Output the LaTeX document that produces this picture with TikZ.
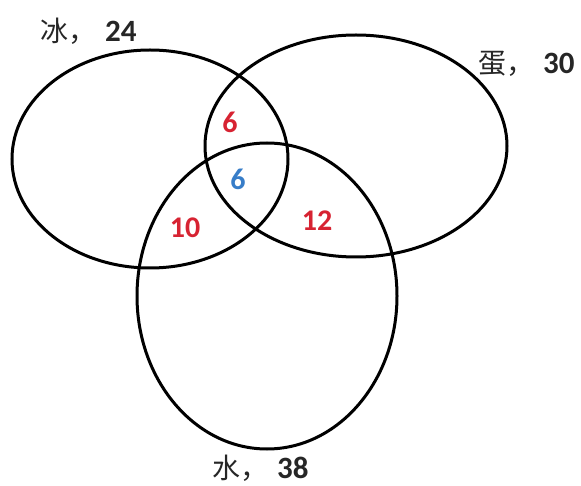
\documentclass[tikz,border=0pt]{standalone}
\usepackage{fontspec}
\setmainfont{Carlito}
\newfontfamily\cjk{Noto Sans CJK SC}
\begin{document}
\begin{tikzpicture}[x=1pt,y=-1pt,
  venn/.style={draw=black,line width=3pt},
  lbl/.style={anchor=west,font=\fontsize{31}{33}\selectfont\bfseries,text=black!85,inner sep=0pt},
  num/.style={font=\fontsize{30}{32}\selectfont\bfseries,inner sep=0pt},
  redn/.style={num,text={rgb,255:red,215;green,35;blue,50}},
  bluen/.style={num,text={rgb,255:red,55;green,125;blue,200}}]
\useasboundingbox (0,0) rectangle (581,486);
\draw[venn] (150,159) ellipse [x radius=138, y radius=109];
\draw[venn] (356,146) ellipse [x radius=151, y radius=111];
\draw[venn] (267,296) ellipse [x radius=130, y radius=153];
\node[lbl] (ice) at (40,31) {{\cjk\mdseries\fontsize{28}{30}\selectfont 冰，}\hspace{9pt}24};
\node[lbl] (egg) at (478,64) {{\cjk\mdseries\fontsize{28}{30}\selectfont 蛋，}\hspace{9pt}30};
\node[lbl] (water) at (212,468) {{\cjk\mdseries\fontsize{28}{30}\selectfont 水，}\hspace{9pt}38};
\node[redn] (ab) at (230,122) {6};
\node[bluen] (abc) at (238,179) {6};
\node[redn] (ac) at (185,228) {10};
\node[redn] (bc) at (317,221) {12};
\end{tikzpicture}
\end{document}
